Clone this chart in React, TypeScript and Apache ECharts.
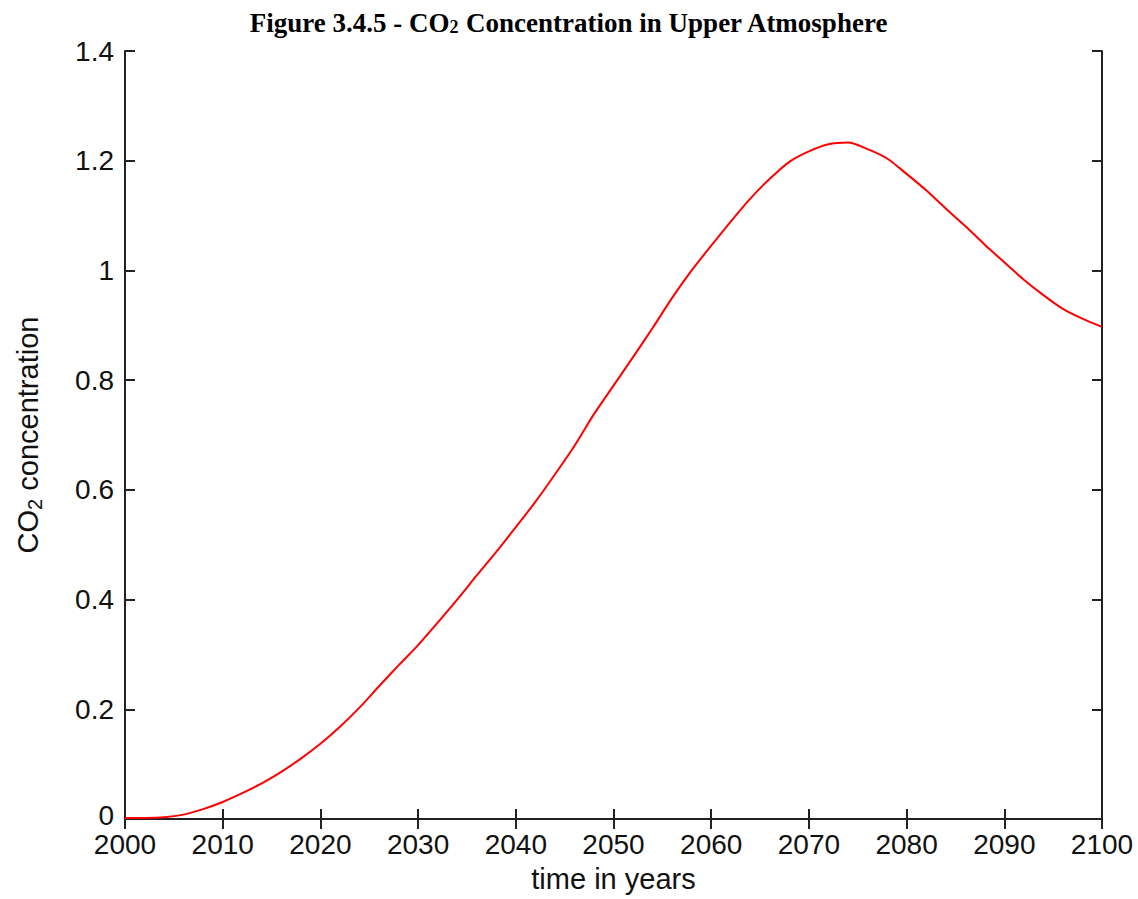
import React, { useEffect, useRef } from "react";
import * as echarts from "echarts";

const years = [
  2000, 2002, 2004, 2006, 2008, 2010, 2012, 2014, 2016, 2018, 2020, 2022, 2024, 2026, 2028,
  2030, 2032, 2034, 2036, 2038, 2040, 2042, 2044, 2046, 2048, 2050, 2052, 2054, 2056, 2058,
  2060, 2062, 2064, 2066, 2068, 2070, 2072, 2074, 2076, 2078, 2080, 2082, 2084, 2086, 2088,
  2090, 2092, 2094, 2096, 2098, 2100,
];
const concentration = [
  0.002, 0.002, 0.003, 0.008, 0.018, 0.031, 0.047, 0.065, 0.086, 0.11, 0.137, 0.168, 0.203,
  0.242, 0.28, 0.317, 0.358, 0.4, 0.444, 0.487, 0.532, 0.578, 0.628, 0.68, 0.738, 0.79, 0.842,
  0.895, 0.95, 1.0, 1.045, 1.089, 1.131, 1.167, 1.198, 1.217, 1.23, 1.233, 1.221, 1.204, 1.176,
  1.146, 1.113, 1.081, 1.047, 1.015, 0.983, 0.955, 0.93, 0.912, 0.897,
];
const xTicks = { min: 2000, max: 2100, interval: 10 };
const yTicks = { min: 0, max: 1.4, interval: 0.2 };

const SANS = "Liberation Sans, Arial, sans-serif";
const SERIF = "Liberation Serif, Times New Roman, serif";
const AXIS_COLOR = "#222";
const TEXT_COLOR = "#111";

export default function App() {
  const ref = useRef<HTMLDivElement>(null);
  useEffect(() => {
    if (!ref.current) return;
    const chart = echarts.init(ref.current, null, { renderer: "svg" });
    const boxAxisCommon = {
      axisLine: { show: true, lineStyle: { color: AXIS_COLOR, width: 2 } },
      axisTick: { show: true, inside: true, length: 10, lineStyle: { color: AXIS_COLOR, width: 2 } },
      splitLine: { show: false },
    };
    chart.setOption({
      animation: false,
      backgroundColor: "#ffffff",
      title: {
        text: "{b|Figure 3.4.5 - CO}{s|2}{b| Concentration in Upper Atmosphere}",
        left: "center",
        top: 2,
        textStyle: {
          rich: {
            b: { fontFamily: SERIF, fontWeight: "bold", fontSize: 27, color: "#000", verticalAlign: "bottom", lineHeight: 29 },
            s: { fontFamily: SERIF, fontWeight: "bold", fontSize: 18, color: "#000", verticalAlign: "bottom", lineHeight: 23 },
          },
        },
      },
      grid: { left: 125, right: 36, top: 51, bottom: 80 },
      xAxis: [
        {
          type: "value",
          position: "bottom",
          ...xTicks,
          ...boxAxisCommon,
          axisLabel: {
            show: true,
            color: TEXT_COLOR,
            fontFamily: SANS,
            fontSize: 28,
            lineHeight: 24,
            margin: 13,
            formatter: (v: number) => String(v),
          },
          name: "time in years",
          nameLocation: "middle",
          nameGap: 45,
          nameTextStyle: { color: TEXT_COLOR, fontFamily: SANS, fontSize: 29 },
        },
        {
          type: "value",
          position: "top",
          ...xTicks,
          ...boxAxisCommon,
          axisLabel: { show: false },
        },
      ],
      yAxis: [
        {
          type: "value",
          position: "left",
          ...yTicks,
          ...boxAxisCommon,
          axisLabel: {
            show: true,
            color: TEXT_COLOR,
            fontFamily: SANS,
            fontSize: 28,
            lineHeight: 24,
            margin: 11,
            formatter: (v: number) => (v === 0 ? "{z|0}" : String(v)),
            rich: {
              z: { color: TEXT_COLOR, fontFamily: SANS, fontSize: 28, lineHeight: 24, padding: [0, 0, 8, 0] },
            },
          },
          name: "{a|CO}{s|2}{a| concentration}",
          nameLocation: "middle",
          nameGap: 80,
          nameTextStyle: {
            rich: {
              a: { color: TEXT_COLOR, fontFamily: SANS, fontSize: 29, lineHeight: 32, verticalAlign: "top" },
              s: { color: TEXT_COLOR, fontFamily: SANS, fontSize: 20, lineHeight: 32, verticalAlign: "bottom", padding: [14, 0, 0, 0] },
            },
          },
        },
        {
          type: "value",
          position: "right",
          ...yTicks,
          ...boxAxisCommon,
          axisLabel: { show: false },
        },
      ],
      series: [
        {
          type: "line",
          xAxisIndex: 0,
          yAxisIndex: 0,
          data: years.map((y, i) => [y, concentration[i]]),
          showSymbol: false,
          smooth: 0.3,
          lineStyle: { color: "#ff0000", width: 2 },
        },
      ],
    });
    return () => chart.dispose();
  }, []);
  return (
    <div
      ref={ref}
      style={{ position: "absolute", left: 0, top: 0, width: 1138, height: 899, background: "#fff" }}
    />
  );
}
